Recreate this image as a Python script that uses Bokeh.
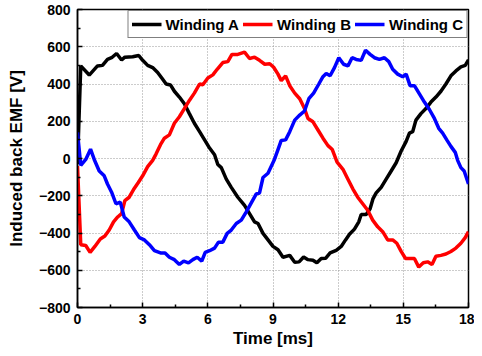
from bokeh.plotting import figure
from bokeh.models import FixedTicker, Range1d, Legend, LegendItem
from bokeh.embed import file_html
from bokeh.resources import INLINE

# ---- data ----
t_a = [0.0, 0.15, 0.54, 0.92, 1.15, 1.38, 1.57, 1.8, 2.03, 2.18, 2.54, 2.82, 3.0, 3.23, 3.46,
       3.69, 3.88, 4.08, 4.28, 4.46, 4.69, 4.92, 5.15, 5.38, 5.62, 5.85, 6.08, 6.31, 6.46,
       6.62, 6.85, 7.08, 7.38, 7.69, 7.92, 8.15, 8.31, 8.54, 8.77, 9.0, 9.23, 9.46, 9.77,
       10.0, 10.2, 10.41, 10.61, 10.84, 11.02, 11.22, 11.42, 11.63, 11.91, 12.14, 12.34,
       12.52, 12.75, 12.95, 13.06, 13.29, 13.47, 13.6, 13.75, 13.98, 14.21, 14.44, 14.67,
       14.9, 15.13, 15.28, 15.43, 15.58, 15.81, 16.04, 16.27, 16.5, 16.73, 16.96, 17.19,
       17.42, 17.65, 17.85, 18.0]
emf_a = [-30, 497, 448, 497, 500, 532, 541, 564, 529, 544, 546, 553, 527, 500, 488,
         462, 432, 400, 395, 361, 330, 294, 241, 189, 144, 100, 56, 20, -32,
         -49, -111, -155, -208, -252, -296, -340, -349, -402, -437, -472, -490, -530, -520,
         -557, -555, -529, -543, -546, -560, -537, -536, -507, -493, -472, -437,
         -407, -379, -340, -301, -301, -270, -217, -185, -155, -111, -67, -23,
         40, 92, 136, 144, 206, 241, 268, 303, 330, 361, 400, 444,
         470, 492, 500, 530]

t_b = [0.0, 0.15, 0.38, 0.58, 0.8, 1.05, 1.26, 1.46, 1.66, 1.85, 2.03, 2.18, 2.38, 2.58,
       2.8, 3.0, 3.23, 3.46, 3.62, 3.82, 4.0, 4.23, 4.46, 4.69, 4.92, 5.15, 5.38, 5.62,
       5.77, 6.0, 6.23, 6.43, 6.69, 6.92, 7.11, 7.38, 7.69, 7.92, 8.15, 8.38, 8.62, 8.85,
       9.03, 9.23, 9.38, 9.58, 9.77, 10.0, 10.23, 10.45, 10.61, 10.84, 11.07, 11.3, 11.53,
       11.73, 11.95, 12.22, 12.45, 12.68, 12.9, 13.13, 13.36, 13.59, 13.82, 14.05, 14.28,
       14.51, 14.7, 14.9, 15.1, 15.31, 15.51, 15.71, 15.92, 16.12, 16.32, 16.5, 16.73,
       16.96, 17.19, 17.42, 17.65, 17.85, 18.0]
emf_b = [-40, -463, -467, -504, -472, -432, -416, -384, -340, -314, -296, -226, -208, -167,
         -129, -93, -44, -10, 25, 74, 109, 127, 189, 224, 268, 312, 351, 400,
         396, 432, 449, 479, 515, 520, 559, 559, 571, 537, 544, 527, 506, 509,
         490, 453, 418, 444, 391, 351, 321, 268, 215, 197, 153, 109, 69,
         48, -20, -58, -111, -164, -208, -243, -278, -331, -367, -393, -437,
         -437, -455, -499, -537, -537, -537, -583, -560, -555, -569, -525, -520,
         -513, -499, -481, -455, -425, -393]

t_c = [0.0, 0.15, 0.38, 0.6, 0.77, 1.0, 1.23, 1.38, 1.57, 1.77, 1.97, 2.15, 2.38, 2.62,
       2.85, 3.08, 3.31, 3.54, 3.82, 4.03, 4.23, 4.46, 4.69, 4.89, 5.11, 5.31, 5.51, 5.72,
       5.88, 6.08, 6.31, 6.49, 6.69, 6.89, 7.08, 7.31, 7.54, 7.77, 8.0, 8.23, 8.38, 8.54,
       8.77, 9.05, 9.23, 9.38, 9.58, 9.77, 10.0, 10.23, 10.45, 10.65, 10.87, 11.11, 11.3,
       11.45, 11.63, 11.83, 12.03, 12.25, 12.45, 12.64, 12.83, 13.06, 13.26, 13.47, 13.67,
       13.9, 14.13, 14.33, 14.51, 14.74, 14.97, 15.13, 15.31, 15.51, 15.74, 15.97, 16.2,
       16.43, 16.63, 16.81, 17.0, 17.19, 17.39, 17.5, 17.65, 17.8, 18.0]
emf_c = [140, -37, -5, 50, -5, -67, -93, -137, -181, -243, -234, -314, -340, -384,
         -425, -437, -463, -495, -507, -507, -530, -543, -569, -551, -560, -543, -530, -551,
         -504, -495, -481, -449, -449, -402, -384, -349, -331, -287, -238, -190, -185, -102,
         -79, -10, 48, 97, 100, 144, 206, 233, 255, 321, 351, 400, 439,
         456, 444, 488, 541, 506, 497, 541, 532, 527, 581, 559, 541,
         532, 541, 520, 479, 453, 439, 453, 391, 391, 347, 303, 263,
         215, 162, 136, 100, 65, 33, -10, -49, -67, -137]

x_ticks = [0, 3, 6, 9, 12, 15, 18]
y_ticks = [-800, -600, -400, -200, 0, 200, 400, 600, 800]
x_minor = [1.5, 4.5, 7.5, 10.5, 13.5, 16.5]
y_minor = [-700, -500, -300, -100, 100, 300, 500, 700]

series_names = ["Winding A", "Winding B", "Winding C"]
series_colors = ["#000000", "#ff0000", "#0000ff"]

FONT = "Liberation Sans"

p = figure(width=474, height=350, x_range=Range1d(0, 18), y_range=Range1d(-800, 800),
           output_backend="svg", toolbar_location=None,
           min_border_left=77, min_border_right=6, min_border_top=9, min_border_bottom=42,
           x_axis_label="Time [ms]", y_axis_label="Induced back EMF [V]")

p.background_fill_color = "white"
p.border_fill_color = "white"
p.outline_line_color = "black"
p.outline_line_width = 1.5

renderers = []
for t, v, c in zip([t_a, t_b, t_c], [emf_a, emf_b, emf_c], series_colors):
    r = p.line(t, v, line_color=c, line_width=3.5)
    renderers.append(r)

for ax in (p.xaxis[0], p.yaxis[0]):
    ax.axis_line_width = 1.5
    ax.axis_line_color = "black"
    ax.major_tick_in = 5
    ax.major_tick_out = 0
    ax.minor_tick_in = 3
    ax.minor_tick_out = 0
    ax.major_tick_line_width = 1.5
    ax.minor_tick_line_width = 1.5
    ax.major_label_text_font = FONT
    ax.major_label_text_font_style = "bold"
    ax.major_label_text_font_size = "14px"
    ax.major_label_text_color = "black"
    ax.axis_label_text_font = FONT
    ax.axis_label_text_font_style = "bold"
    ax.axis_label_text_font_size = "17px"
    ax.axis_label_text_color = "black"

p.xaxis[0].ticker = FixedTicker(ticks=x_ticks, minor_ticks=x_minor)
p.yaxis[0].ticker = FixedTicker(ticks=y_ticks, minor_ticks=y_minor)
p.xaxis[0].major_label_standoff = 6
p.xaxis[0].axis_label_standoff = 2
p.yaxis[0].major_label_standoff = 7
p.yaxis[0].axis_label_standoff = 10

for g in (p.xgrid[0], p.ygrid[0]):
    g.grid_line_color = "#999999"
    g.grid_line_dash = "1 2"
    g.grid_line_width = 1

legend = Legend(items=[LegendItem(label=n, renderers=[r]) for n, r in zip(series_names, renderers)],
                orientation="horizontal", location="top_right")
legend.label_text_font = FONT
legend.label_text_font_style = "bold"
legend.label_text_font_size = "15px"
legend.label_text_color = "black"
legend.glyph_width = 30
legend.label_standoff = 4
legend.spacing = 4
legend.padding = 3
legend.margin = 1
legend.border_line_color = "black"
legend.border_line_width = 1
legend.background_fill_alpha = 1
p.add_layout(legend, "center")

open("out.html", "w").write(file_html(p, INLINE))
